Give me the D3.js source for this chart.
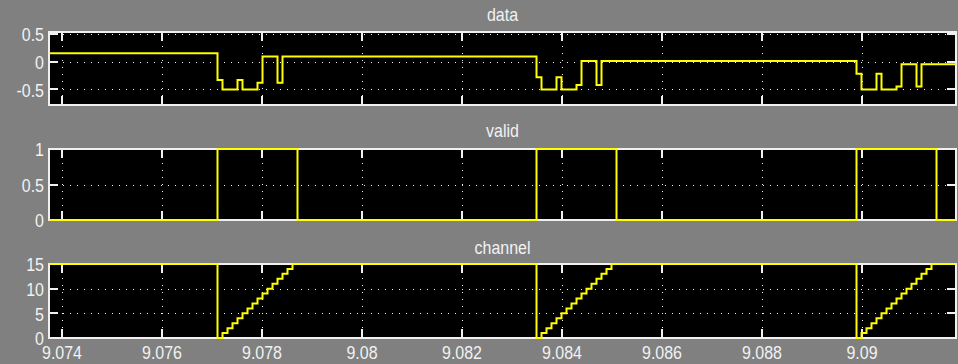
<!DOCTYPE html>
<html>
<head>
<meta charset="utf-8">
<script src="https://cdn.jsdelivr.net/npm/d3@7"></script>
<style>
  html, body { margin: 0; padding: 0; background: #808080; }
  svg { display: block; }
  text { font-family: "Liberation Sans", Arial, sans-serif; font-size: 16px; fill: #f2f2f2; }
</style>
</head>
<body>
<svg id="chart" width="958" height="364"></svg>
<script>
// ---------- data ----------
const xTicks = [9.074, 9.076, 9.078, 9.08, 9.082, 9.084, 9.086, 9.088, 9.09];
const xTickLabels = ["9.074", "9.076", "9.078", "9.08", "9.082", "9.084", "9.086", "9.088", "9.09"];

const dataTimes = [9.07370,
  9.07711, 9.07721, 9.07751, 9.07761, 9.07791, 9.07801, 9.07831, 9.07841,
  9.08349, 9.08359, 9.08389, 9.08399, 9.08429, 9.08439, 9.08469, 9.08479,
  9.08989, 9.08999, 9.09029, 9.09039, 9.09069, 9.09079, 9.09109, 9.09119,
  9.09200];
const dataValues = [0.15,
  -0.33, -0.5, -0.33, -0.5, -0.38, 0.09, -0.38, 0.09,
  -0.28, -0.5, -0.28, -0.5, -0.42, 0.01, -0.42, 0.01,
  -0.22, -0.5, -0.22, -0.5, -0.45, -0.05, -0.45, -0.05,
  -0.05];
const dataYTicks = [0.5, 0, -0.5];
const dataYLabels = ["0.5", "0", "-0.5"];

const validTimes = [9.07370, 9.07711, 9.07871, 9.08349, 9.08509, 9.08989, 9.09149, 9.09200];
const validValues = [0, 1, 0, 1, 0, 1, 0, 0];
const validYTicks = [1, 0.5, 0];
const validYLabels = ["1", "0.5", "0"];

const channelTimes = [9.07370,
  9.07711, 9.07721, 9.07731, 9.07741, 9.07751, 9.07761, 9.07771, 9.07781,
  9.07791, 9.07801, 9.07811, 9.07821, 9.07831, 9.07841, 9.07851, 9.07861,
  9.08349, 9.08359, 9.08369, 9.08379, 9.08389, 9.08399, 9.08409, 9.08419,
  9.08429, 9.08439, 9.08449, 9.08459, 9.08469, 9.08479, 9.08489, 9.08499,
  9.08989, 9.08999, 9.09009, 9.09019, 9.09029, 9.09039, 9.09049, 9.09059,
  9.09069, 9.09079, 9.09089, 9.09099, 9.09109, 9.09119, 9.09129, 9.09139,
  9.09200];
const channelValues = [15,
  0, 1, 2, 3, 4, 5, 6, 7, 8, 9, 10, 11, 12, 13, 14, 15,
  0, 1, 2, 3, 4, 5, 6, 7, 8, 9, 10, 11, 12, 13, 14, 15,
  0, 1, 2, 3, 4, 5, 6, 7, 8, 9, 10, 11, 12, 13, 14, 15,
  15];
const channelYTicks = [15, 10, 5, 0];
const channelYLabels = ["15", "10", "5", "0"];

const panelTitles = ["data", "valid", "channel"];

// ---------- layout ----------
const svg = d3.select("#chart");
const left = 49, right = 956;
const x = d3.scaleLinear().domain([9.07374, 9.09188]).range([left, right]);
const textStretch = 1.18;

const panels = [
  { title: panelTitles[0], top: 32, bottom: 105, domain: [-0.78, 0.53], times: dataTimes, values: dataValues, ticks: dataYTicks, labels: dataYLabels, titleY: 21 },
  { title: panelTitles[1], top: 149, bottom: 220, domain: [0, 1], times: validTimes, values: validValues, ticks: validYTicks, labels: validYLabels, titleY: 137 },
  { title: panelTitles[2], top: 264, bottom: 338, domain: [0, 15], times: channelTimes, values: channelValues, ticks: channelYTicks, labels: channelYLabels, titleY: 254 }
];

const tickLen = 9;
const white = "#f0f0f0";

panels.forEach((p, i) => {
  const y = d3.scaleLinear().domain(p.domain).range([p.bottom, p.top]);
  const g = svg.append("g");

  // background
  g.append("rect").attr("x", left).attr("y", p.top)
    .attr("width", right - left).attr("height", p.bottom - p.top).attr("fill", "#000");

  // grid
  const inner = xTicks.filter(t => x(t) > left + 1 && x(t) < right - 1);
  g.selectAll(".vg").data(inner).join("line")
    .attr("x1", d => Math.round(x(d)) + 0.5).attr("x2", d => Math.round(x(d)) + 0.5)
    .attr("y1", p.top).attr("y2", p.bottom)
    .attr("stroke", white).attr("stroke-width", 1).attr("stroke-dasharray", "1,6");
  const innerY = p.ticks.filter(t => y(t) > p.top + 1 && y(t) < p.bottom - 1);
  g.selectAll(".hg").data(innerY).join("line")
    .attr("x1", left).attr("x2", right)
    .attr("y1", d => Math.round(y(d)) + 0.5).attr("y2", d => Math.round(y(d)) + 0.5)
    .attr("stroke", white).attr("stroke-width", 1).attr("stroke-dasharray", "1,6");

  // ticks (inward on all four sides)
  g.selectAll(".xt").data(xTicks).join("path")
    .attr("d", d => {
      const xx = Math.round(x(d));
      return `M${xx},${p.top}v${tickLen}M${xx},${p.bottom}v${-tickLen}`;
    })
    .attr("stroke", white).attr("stroke-width", 2).attr("fill", "none");
  g.selectAll(".yt").data(p.ticks).join("path")
    .attr("d", d => {
      const yy = Math.round(y(d));
      return `M${left},${yy}h${tickLen}M${right},${yy}h${-tickLen}`;
    })
    .attr("stroke", white).attr("stroke-width", 2).attr("fill", "none");

  // frame
  g.append("rect").attr("x", left).attr("y", p.top)
    .attr("width", right - left).attr("height", p.bottom - p.top)
    .attr("fill", "none").attr("stroke", white).attr("stroke-width", 2);

  // signal
  const clipId = "clip" + i;
  svg.append("clipPath").attr("id", clipId).append("rect")
    .attr("x", left).attr("y", p.top - 2).attr("width", right - left).attr("height", p.bottom - p.top + 4);
  const pts = p.times.map((t, k) => [t, p.values[k]]);
  const line = d3.line().x(d => x(d[0])).y(d => y(d[1])).curve(d3.curveStepAfter);
  g.append("path").datum(pts).attr("d", line)
    .attr("clip-path", `url(#${clipId})`)
    .attr("fill", "none").attr("stroke", "#ffff00").attr("stroke-width", 2)
    .attr("stroke-linejoin", "miter");

  // y labels
  g.selectAll(".yl").data(p.ticks).join("text")
    .attr("transform", d => `translate(${left - 5},${y(d)}) scale(1,${textStretch})`)
    .attr("dy", "0.38em")
    .attr("text-anchor", "end").text((d, k) => p.labels[k]);

  // title
  g.append("text")
    .attr("transform", `translate(${(left + right) / 2},${p.titleY}) scale(1,${textStretch})`)
    .attr("text-anchor", "middle").text(p.title);
});

// x tick labels (bottom panel only)
svg.selectAll(".xl").data(xTicks).join("text")
  .attr("transform", d => `translate(${x(d)},359) scale(1,${textStretch})`)
  .attr("text-anchor", "middle").text((d, k) => xTickLabels[k]);
</script>
</body>
</html>
